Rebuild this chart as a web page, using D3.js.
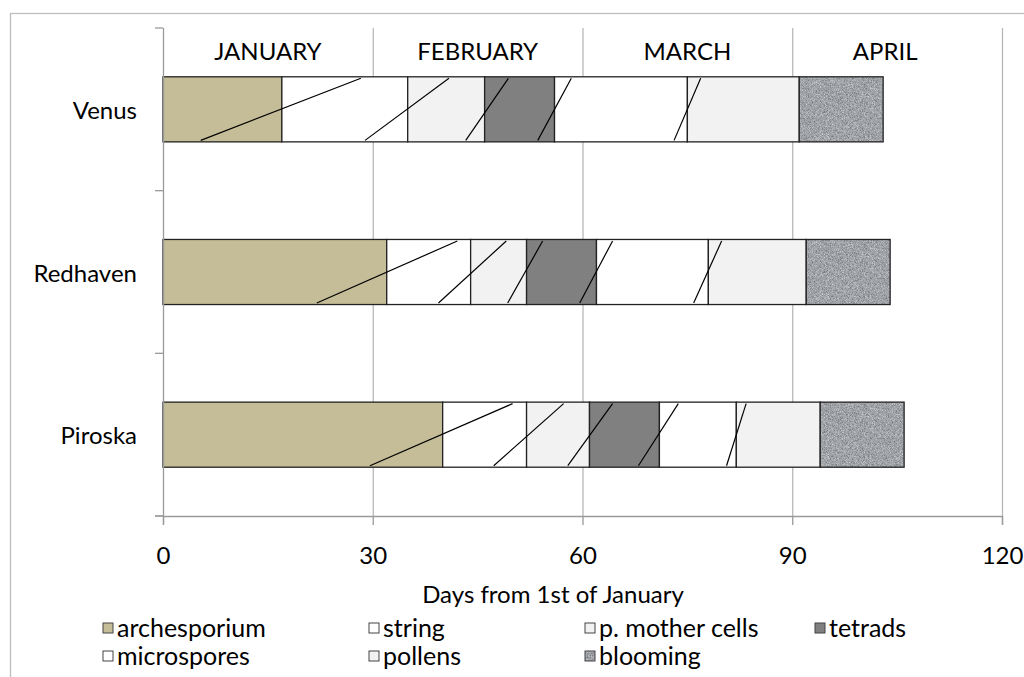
<!DOCTYPE html>
<html>
<head>
<meta charset="utf-8">
<script src="https://cdn.jsdelivr.net/npm/d3@7"></script>
<style>
  html, body { margin: 0; padding: 0; background: #fff; }
  svg { display: block; }
  text { font-family: Lato, "Open Sans", sans-serif; fill: #000; }
</style>
</head>
<body>
<svg id="chart" width="1024" height="677"></svg>
<script>
// ---- data ----
const varieties = ["Venus", "Redhaven", "Piroska"];
const stages = ["archesporium", "string", "p. mother cells", "tetrads", "microspores", "pollens", "blooming"];
// duration (days) of each stage, per variety
const archesporium = [17, 32, 40];
const string = [18, 12, 12];
const pMotherCells = [11, 8, 9];
const tetrads = [10, 10, 10];
const microspores = [19, 16, 11];
const pollens = [16, 14, 12];
const blooming = [12, 12, 12];
// transition lines: [day at bar bottom, day at bar top]
const venusLines = [[5.4, 28.3], [28.9, 40.9], [43.3, 49.4], [53.6, 58.4], [73.1, 76.9]];
const redhavenLines = [[22, 42.1], [39.4, 49.1], [49.3, 54.3], [59.6, 64.3], [75.9, 79.9]];
const piroskaLines = [[29.6, 50], [47.3, 57.3], [57.9, 64.3], [68, 73.7], [80.6, 83.4]];
const months = ["JANUARY", "FEBRUARY", "MARCH", "APRIL"];
const monthDays = [15, 45, 75, 103.3];
const xTicks = [0, 30, 60, 90, 120];
const xTitle = "Days from 1st of January";

// ---- build table ----
const seriesValues = [archesporium, string, pMotherCells, tetrads, microspores, pollens, blooming];
const table = varieties.map((v, i) => {
  const row = { variety: v };
  stages.forEach((s, j) => row[s] = seriesValues[j][i]);
  return row;
});
const lineSets = [venusLines, redhavenLines, piroskaLines];

const colors = {
  "archesporium": "#C4BD97",
  "string": "#FFFFFF",
  "p. mother cells": "#F2F2F2",
  "tetrads": "#808080",
  "microspores": "#FFFFFF",
  "pollens": "#F2F2F2",
  "blooming": "url(#bloomPat)"
};

const svg = d3.select("#chart");

// defs: speckled pattern for blooming
const defs = svg.append("defs");
const f = defs.append("filter").attr("id", "noise")
  .attr("x", 0).attr("y", 0).attr("width", "100%").attr("height", "100%")
  .attr("color-interpolation-filters", "sRGB");
f.append("feTurbulence").attr("type", "fractalNoise").attr("baseFrequency", 1.5)
  .attr("numOctaves", 2).attr("seed", 4).attr("stitchTiles", "stitch").attr("result", "n");
f.append("feColorMatrix").attr("in", "n").attr("type", "matrix")
  .attr("values", "0.55 0 0 0 0.35  0.55 0 0 0 0.36  0.55 0 0 0 0.38  0 0 0 0 1");
const pat = defs.append("pattern").attr("id", "bloomPat").attr("patternUnits", "userSpaceOnUse")
  .attr("width", 80).attr("height", 80);
pat.append("rect").attr("width", 80).attr("height", 80).attr("fill", "#A0A1A5").attr("filter", "url(#noise)");

// outer frame
svg.append("rect").attr("x", 10.5).attr("y", 13.5).attr("width", 1030).attr("height", 700)
  .attr("fill", "none").attr("stroke", "#BDBDBD").attr("stroke-width", 1.3);

const x = d3.scaleLinear().domain([0, 120]).range([163, 1002]);
const y = d3.scaleBand().domain(varieties).range([28, 516]).paddingInner(0.6).paddingOuter(0.3);

// gridlines
svg.append("g").selectAll("line").data(xTicks.filter(d => d > 0)).join("line")
  .attr("x1", d => x(d) + 0.5).attr("x2", d => x(d) + 0.5)
  .attr("y1", 28).attr("y2", 516)
  .attr("stroke", "#B3B3B3").attr("stroke-width", 1.2);

// month header labels
svg.append("g").selectAll("text").data(months).join("text")
  .attr("x", (d, i) => x(monthDays[i])).attr("y", 50)
  .attr("text-anchor", "middle").attr("dominant-baseline", "central")
  .style("font-size", "24px").text(d => d);

// stacked bars
const stack = d3.stack().keys(stages);
const stacked = stack(table);
const barG = svg.append("g");
stacked.forEach(layer => {
  barG.append("g").selectAll("rect").data(layer).join("rect")
    .attr("x", d => x(d[0]))
    .attr("y", d => y(d.data.variety))
    .attr("width", d => x(d[1]) - x(d[0]))
    .attr("height", y.bandwidth())
    .attr("fill", colors[layer.key])
    .attr("stroke", "#222").attr("stroke-width", 1.3);
});

// transition lines
varieties.forEach((v, i) => {
  svg.append("g").selectAll("line").data(lineSets[i]).join("line")
    .attr("x1", d => x(d[0])).attr("y1", y(v) + y.bandwidth() - 1.5)
    .attr("x2", d => x(d[1])).attr("y2", y(v) + 1.5)
    .attr("stroke", "#000").attr("stroke-width", 1.2);
});

// y axis
const step = y.step();
svg.append("line").attr("x1", 163.5).attr("x2", 163.5).attr("y1", 28).attr("y2", 516)
  .attr("stroke", "#9A9A9A").attr("stroke-width", 1.3);
svg.append("g").selectAll("line").data(d3.range(varieties.length + 1)).join("line")
  .attr("x1", 155).attr("x2", 163).attr("y1", d => 28 + d * step).attr("y2", d => 28 + d * step)
  .attr("stroke", "#9A9A9A").attr("stroke-width", 1.3);
svg.append("g").selectAll("text").data(varieties).join("text")
  .attr("x", 137).attr("y", d => y(d) + y.bandwidth() / 2)
  .attr("text-anchor", "end").attr("dominant-baseline", "central")
  .style("font-size", "24px").text(d => d);

// x axis
const xAxis = d3.axisBottom(x).tickValues(xTicks).tickSize(9).tickPadding(22).tickFormat(d3.format("d"));
const xg = svg.append("g").attr("transform", "translate(0,516)").call(xAxis);
xg.select(".domain").attr("stroke", "#9A9A9A").attr("stroke-width", 1.3);
xg.selectAll(".tick line").attr("stroke", "#9A9A9A").attr("stroke-width", 1.3);
xg.selectAll(".tick text").style("font-size", "24px").style("font-family", "Lato, sans-serif").attr("fill", "#000");
svg.append("line").attr("x1", 155).attr("x2", 163).attr("y1", 516).attr("y2", 516)
  .attr("stroke", "#9A9A9A").attr("stroke-width", 1.3);

// axis title
svg.append("text").attr("x", 553).attr("y", 593).attr("text-anchor", "middle")
  .attr("dominant-baseline", "central").style("font-size", "24px").text(xTitle);

// legend
const legX = [117, 383, 599, 829];
const legY = [627, 655];
const legG = svg.append("g");
const items = legG.selectAll("g").data(stages).join("g")
  .attr("transform", (d, i) => `translate(${legX[i % 4]},${legY[Math.floor(i / 4)]})`);
items.append("rect").attr("x", -14).attr("y", -4).attr("width", 10).attr("height", 10)
  .attr("fill", d => colors[d]).attr("stroke", "#444").attr("stroke-width", 1);
items.append("text").attr("x", 0).attr("y", 0).attr("dominant-baseline", "central")
  .style("font-size", "25px").text(d => d);
</script>
</body>
</html>
